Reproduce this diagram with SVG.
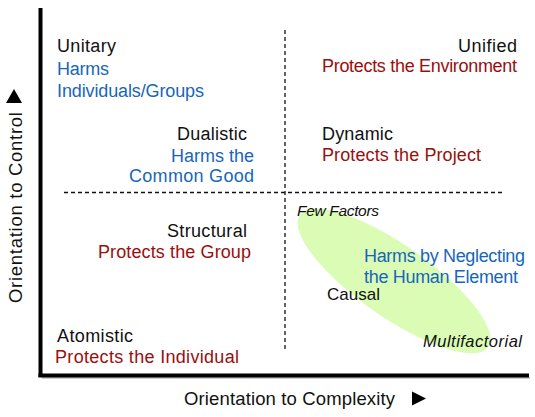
<svg xmlns="http://www.w3.org/2000/svg" width="535" height="417" viewBox="0 0 535 417">
<style>
text{font-family:"Liberation Sans",Arial,sans-serif;font-size:18px;fill:#111}
.b{fill:#1766b9}
.r{fill:#9a0e0e}
.i{font-style:italic;font-size:15.5px}
.ax{font-size:18.5px}
.dash{stroke:#111;stroke-width:1.3;stroke-dasharray:4,3;fill:none}
</style>
<rect width="535" height="417" fill="#fff"/>
<g id="region-causal">
<ellipse cx="394" cy="281" rx="115" ry="36" transform="rotate(35 394 281)" fill="#dafcb5"/>
</g>
<g id="axes">
<line x1="42" y1="378" x2="530" y2="378" stroke="#ccc" stroke-width="2"/>
<line x1="40.5" y1="8" x2="40.5" y2="377" stroke="#000" stroke-width="4"/>
<line x1="38.5" y1="375.5" x2="529" y2="375.5" stroke="#000" stroke-width="4"/>
<polygon points="412,391.5 426,398.5 412,405.5" fill="#000"/>
<polygon points="6,103 14,89 22,103" fill="#000"/>
<text class="ax" x="184" y="405" textLength="211">Orientation to Complexity</text>
<text class="ax" transform="translate(21.5 303) rotate(-90)" textLength="191">Orientation to Control</text>
</g>
<g id="connectors">
<line class="dash" x1="285" y1="30" x2="285" y2="349"/>
<line class="dash" x1="64" y1="192.5" x2="504" y2="192.5"/>
</g>
<g id="unitary">
<text x="57" y="52" textLength="59">Unitary</text>
<text class="b" x="57" y="75" textLength="52">Harms</text>
<text class="b" x="57" y="97" textLength="147">Individuals/Groups</text>
</g>
<g id="unified">
<text x="458" y="52" textLength="59">Unified</text>
<text class="r" x="322" y="72" textLength="195">Protects the Environment</text>
</g>
<g id="dualistic">
<text x="177" y="140" textLength="70">Dualistic</text>
<text class="b" x="171" y="162" textLength="83">Harms the</text>
<text class="b" x="129" y="182" textLength="125">Common Good</text>
</g>
<g id="dynamic">
<text x="322" y="140" textLength="71">Dynamic</text>
<text class="r" x="322" y="161" textLength="159">Protects the Project</text>
</g>
<g id="structural">
<text x="167" y="237" textLength="80">Structural</text>
<text class="r" x="98" y="258" textLength="153">Protects the Group</text>
</g>
<g id="atomistic">
<text x="57" y="342" textLength="76">Atomistic</text>
<text class="r" x="55" y="363" textLength="184">Protects the Individual</text>
</g>
<g id="causal">
<text class="i" x="297" y="216" textLength="82">Few Factors</text>
<text class="b" x="364" y="262" textLength="161">Harms by Neglecting</text>
<text class="b" x="364" y="283" textLength="154">the Human Element</text>
<text x="327" y="300" style="font-size:17px">Causal</text>
<text class="i" x="423" y="347" style="font-size:16.5px" textLength="99">Multifactorial</text>
</g>
</svg>
